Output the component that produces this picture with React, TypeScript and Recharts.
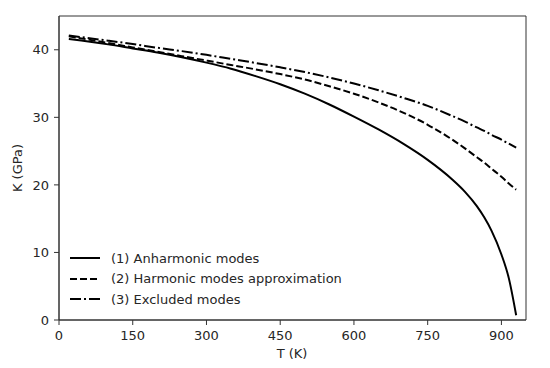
import { LineChart, Line, XAxis, YAxis, ReferenceArea, Label } from 'recharts';

// temperature (K) and bulk modulus (GPa)
const temps = [20, 100, 150, 200, 250, 300, 350, 400, 450, 500, 550, 600, 650, 700, 750, 800, 825, 850, 865, 880, 900, 915, 930];
const anharmonic = [41.6, 40.8, 40.2, 39.6, 38.9, 38.1, 37.2, 36.1, 34.9, 33.5, 31.9, 30.1, 28.2, 26.1, 23.7, 20.8, 19.05, 16.85, 15.2, 13.2, 9.7, 6.2, 0.7];
const harmonic = [42.0, 41.0, 40.35, 39.7, 39.05, 38.4, 37.75, 37.1, 36.4, 35.6, 34.6, 33.5, 32.2, 30.7, 28.9, 26.7, 25.45, 24.1, 23.3, 22.4, 21.2, 20.2, 19.3];
const excluded = [42.1, 41.35, 40.85, 40.3, 39.8, 39.25, 38.65, 38.05, 37.4, 36.7, 35.9, 35.0, 34.0, 32.9, 31.7, 30.2, 29.4, 28.5, 28.0, 27.4, 26.7, 26.1, 25.5];

const xTicks = [0, 150, 300, 450, 600, 750, 900];
const yTicks = [0, 10, 20, 30, 40];

const series = [
    { key: 'anharmonic', name: '(1) Anharmonic modes', dash: undefined },
    { key: 'harmonic', name: '(2) Harmonic modes approximation', dash: '7 3' },
    { key: 'excluded', name: '(3) Excluded modes', dash: '11 3 2 3' },
];

const data = temps.map((t, i) => ({
    t,
    anharmonic: anharmonic[i],
    harmonic: harmonic[i],
    excluded: excluded[i],
}));

const FONT = '"DejaVu Sans", sans-serif';
const INK = '#262626';
const tickStyle = { fontFamily: FONT, fontSize: 13, fill: INK };

// legend sits inside the plot, bottom-left, like matplotlib's
const LegendBox = () => (
    <div style={{ position: 'absolute', left: 70, top: 248, fontFamily: FONT, fontSize: 13, color: INK }}>
        {series.map((s) => (
            <div key={s.key} style={{ display: 'flex', alignItems: 'center', height: 20.5 }}>
                <svg width={30} height={6} style={{ marginRight: 11 }}>
                    <line x1={0} y1={3} x2={30} y2={3} stroke="#000" strokeWidth={2} strokeDasharray={s.dash} />
                </svg>
                <span>{s.name}</span>
            </div>
        ))}
    </div>
);

const App = () => {
    return (
        <div style={{ position: 'absolute', left: 0, top: 0, width: 550, height: 368 }}>
            <LineChart width={550} height={368} data={data} margin={{ top: 16, right: 24, bottom: 0, left: 0 }}>
                <XAxis
                    dataKey="t"
                    type="number"
                    domain={[0, 950]}
                    ticks={xTicks}
                    tick={tickStyle}
                    tickSize={5}
                    tickMargin={6}
                    height={48}
                    stroke="#333"
                    allowDataOverflow>
                    <Label
                        content={() => (
                            <text x={292} y={358} textAnchor="middle" fontFamily={FONT} fontSize={13} fill={INK}>T (K)</text>
                        )}
                    />
                </XAxis>
                <YAxis
                    type="number"
                    domain={[0, 45]}
                    ticks={yTicks}
                    tick={tickStyle}
                    tickSize={5}
                    tickMargin={5}
                    width={59}
                    stroke="#333"
                    allowDataOverflow>
                    <Label
                        content={() => (
                            <text x={22} y={168} textAnchor="middle" transform="rotate(-90 22 168)" fontFamily={FONT} fontSize={13} fill={INK}>K (GPa)</text>
                        )}
                    />
                </YAxis>
                <ReferenceArea x1={0} x2={950} y1={0} y2={45} fill="none" stroke="#333" strokeWidth={1} />
                {series.map((s) => (
                    <Line
                        key={s.key}
                        type="monotone"
                        dataKey={s.key}
                        name={s.name}
                        stroke="#000"
                        strokeWidth={2}
                        strokeDasharray={s.dash}
                        dot={false}
                        activeDot={false}
                        isAnimationActive={false}
                    />
                ))}
            </LineChart>
            <LegendBox />
        </div>
    );
};

export default App;
